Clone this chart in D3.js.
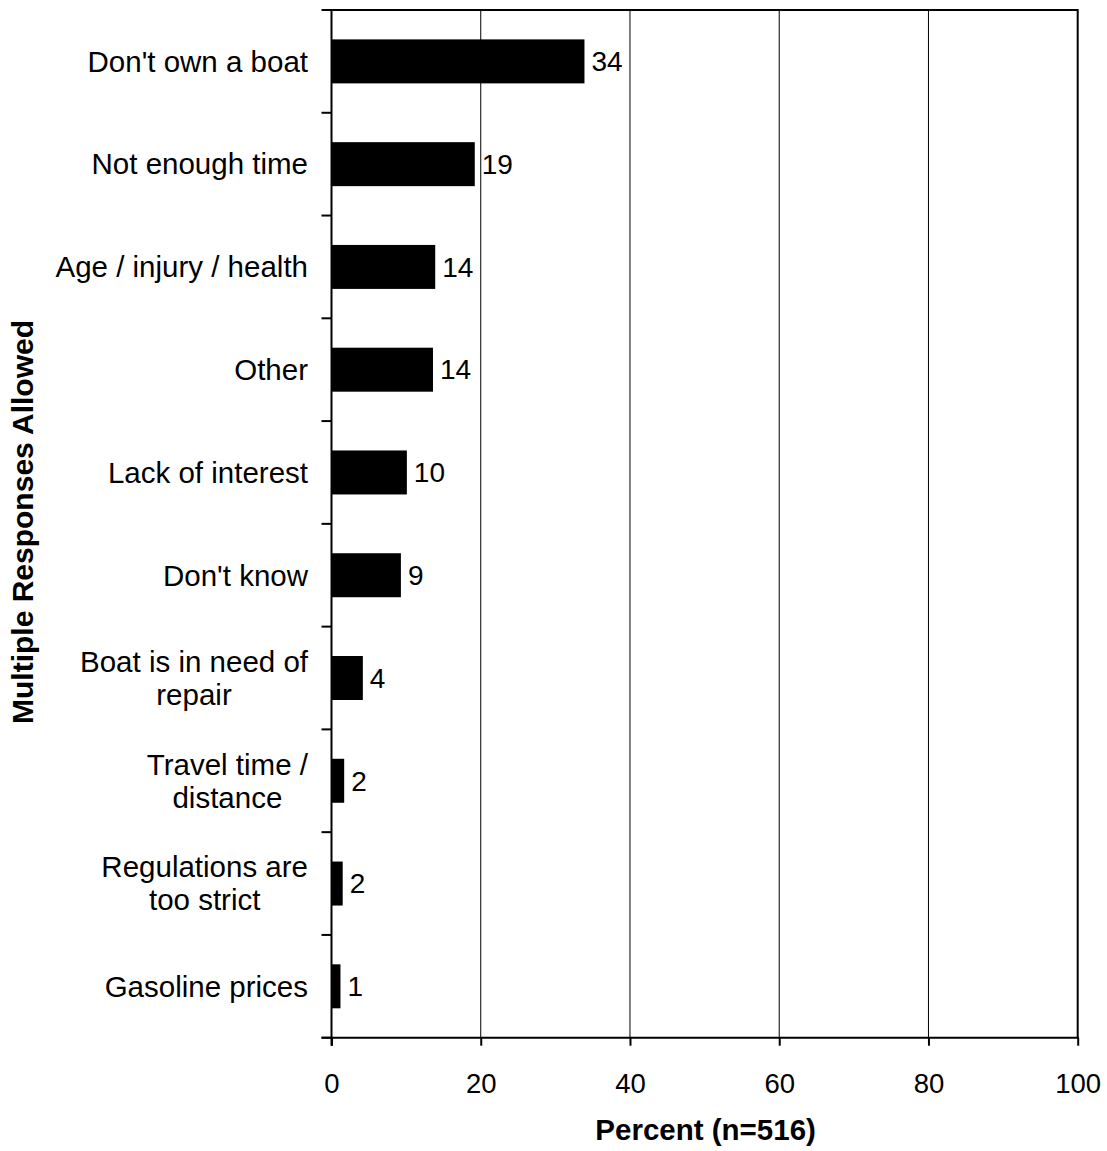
<!DOCTYPE html>
<html>
<head>
<meta charset="utf-8">
<script src="https://cdn.jsdelivr.net/npm/d3@7"></script>
<style>
  html, body { margin: 0; padding: 0; background: #fff; }
  text { font-family: "Liberation Sans", Arial, sans-serif; fill: #000; }
</style>
</head>
<body>
<svg id="chart" width="1107" height="1151"></svg>
<script>
const categories = [
  ["Don't own a boat"],
  ["Not enough time"],
  ["Age / injury / health"],
  ["Other"],
  ["Lack of interest"],
  ["Don't know"],
  ["Boat is in need of", "repair"],
  ["Travel time /", "distance"],
  ["Regulations are", "too strict"],
  ["Gasoline prices"]
];
const values = [33.9, 19.2, 13.9, 13.6, 10.1, 9.3, 4.2, 1.7, 1.5, 1.2];
const valueLabels = ["34", "19", "14", "14", "10", "9", "4", "2", "2", "1"];
const xTicks = [0, 20, 40, 60, 80, 100];
const gridTicks = [20, 40, 60, 80];
const xTitle = "Percent (n=516)";
const yTitle = "Multiple Responses Allowed";

(function () {
const svg = d3.select("#chart");
const pL = 331.5, pR = 1077.7, pT = 10, pB = 1037.7;

const keys = categories.map((c, i) => i);
const x = d3.scaleLinear().domain([0, 100]).range([pL, pR]);
const y = d3.scaleBand().domain(keys).range([pT, pB]).paddingInner(0.572).paddingOuter(0.286);
const step = y.step();

// gridlines
svg.append("g").selectAll("line").data(gridTicks).join("line")
  .attr("x1", d => x(d)).attr("x2", d => x(d))
  .attr("y1", pT).attr("y2", pB)
  .attr("stroke", "#000").attr("stroke-width", 1);

// frame top & right
svg.append("line").attr("x1", pL).attr("x2", pR).attr("y1", pT).attr("y2", pT)
  .attr("stroke", "#000").attr("stroke-width", 2);
svg.append("line").attr("x1", pR).attr("x2", pR).attr("y1", pT - 1).attr("y2", pB)
  .attr("stroke", "#000").attr("stroke-width", 2);

// bars
svg.append("g").selectAll("rect").data(values).join("rect")
  .attr("x", x(0))
  .attr("y", (d, i) => y(i))
  .attr("width", d => x(d) - x(0))
  .attr("height", y.bandwidth())
  .attr("fill", "#000");

// value labels
svg.append("g").selectAll("text").data(values).join("text")
  .attr("x", d => x(d) + 7)
  .attr("y", (d, i) => y(i) + y.bandwidth() / 2)
  .attr("dy", "0.35em")
  .attr("font-size", 28)
  .text((d, i) => valueLabels[i]);

// x axis
const xAxis = d3.axisBottom(x).tickValues(xTicks).tickSize(8).tickPadding(28).tickSizeOuter(0);
const gx = svg.append("g").attr("transform", `translate(0,${pB})`).call(xAxis);
gx.select(".domain").attr("stroke", "#000").attr("stroke-width", 2)
  .attr("d", `M${pL - 10},0H${pR + 1}`);
gx.selectAll(".tick line").attr("stroke", "#000").attr("stroke-width", 2);
gx.selectAll(".tick text").attr("font-size", 27.5).attr("font-family", "Liberation Sans, Arial, sans-serif").attr("fill", "#000");

// y axis line and boundary ticks
svg.append("line").attr("x1", pL).attr("x2", pL).attr("y1", pT - 1).attr("y2", pB + 8)
  .attr("stroke", "#000").attr("stroke-width", 2);
const bounds = d3.range(keys.length + 1).map(i => pT + i * step);
svg.append("g").selectAll("line").data(bounds).join("line")
  .attr("x1", pL - 10).attr("x2", pL)
  .attr("y1", d => d).attr("y2", d => d)
  .attr("stroke", "#000").attr("stroke-width", 2);

// category labels
const labelRight = 308;
const lineH = 33;
categories.forEach((lines, i) => {
  const cy = y(i) + y.bandwidth() / 2;
  const g = svg.append("g");
  const texts = lines.map((ln, j) => g.append("text")
    .attr("font-size", 29.5)
    .attr("text-anchor", "middle")
    .attr("y", cy + (j - (lines.length - 1) / 2) * lineH)
    .attr("dy", "0.35em")
    .text(ln));
  const maxW = d3.max(texts, t => t.node().getComputedTextLength());
  texts.forEach(t => t.attr("x", labelRight - maxW / 2));
});

// axis titles
svg.append("text")
  .attr("x", (pL + pR) / 2 + 1).attr("y", 1140)
  .attr("text-anchor", "middle").attr("font-weight", "bold").attr("font-size", 29.5)
  .text(xTitle);
svg.append("text")
  .attr("transform", `translate(33,522) rotate(-90)`)
  .attr("text-anchor", "middle").attr("font-weight", "bold").attr("font-size", 30)
  .text(yTitle);
})();
</script>
</body>
</html>
